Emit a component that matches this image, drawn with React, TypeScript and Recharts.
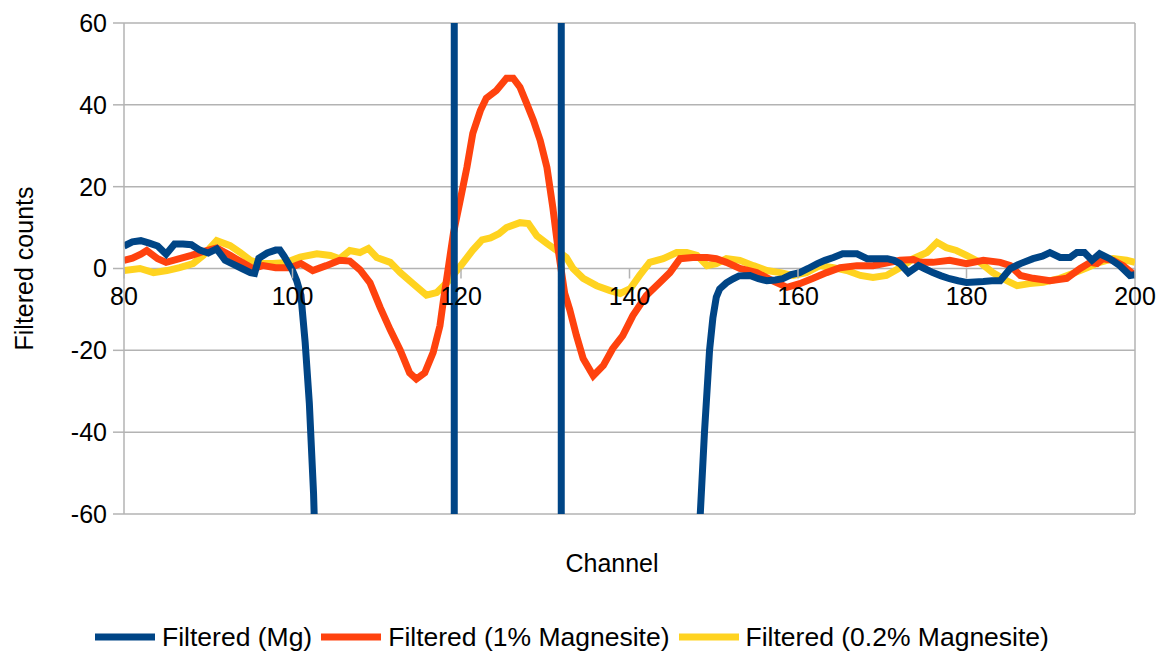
import React from 'react';
import { LineChart, Line, XAxis, YAxis, CartesianGrid, ReferenceLine } from 'recharts';

// ---- layout constants ----
const W = 1163;
const H = 659;
const PLOT_LEFT = 124;
const PLOT_RIGHT = 1135;
const PLOT_TOP = 23;
const PLOT_BOTTOM = 514;
const X_AXIS_H = 60;
const FONT = '"Liberation Sans", Arial, sans-serif';
const GRID = '#b3b3b3';

// ---- axes ----
const X_MIN = 80;
const X_MAX = 200;
const Y_MIN = -60;
const Y_MAX = 60;
const X_TICKS = [80, 100, 120, 140, 160, 180, 200];
const Y_TICKS = [-60, -40, -20, 0, 20, 40, 60];

// ---- series names / colours ----
const SERIES_NAMES = ['Filtered (Mg)', 'Filtered (1% Magnesite)', 'Filtered (0.2% Magnesite)'];
const SERIES_COLORS = ['#004586', '#ff420e', '#ffd320'];

// ---- Filtered (Mg) ----
const MG_CH = [
  80, 81, 82, 83, 84, 85, 86, 87, 88, 89,
  90, 91, 92, 93, 94, 95, 95.5, 96, 97, 98,
  98.5, 99, 100, 100.5, 101, 101.5, 102, 102.5, 103, 104,
  119.2, 119.2, 131.9, 131.9, 147, 148, 148.4, 148.9, 149.5, 149.9,
  150.3, 150.7, 151.5, 152.3, 153, 154.3, 155.3, 156.3, 157.3, 158.2,
  159.2, 160.2, 161.2, 162.3, 163.2, 164.2, 165.3, 166, 167, 168.2,
  169.5, 170.6, 171.4, 172.1, 173.1, 174.3, 175, 176, 177, 178,
  179, 180, 181, 182, 183, 184, 185.2, 186.4, 187.9, 189,
  189.9, 191.1, 192.3, 193.1, 194, 194.9, 195.8, 197, 198.2, 199.4,
  200,
];
const MG_V = [
  5.5, 6.5, 6.8, 6.2, 5.5, 3.5, 6, 6, 5.8, 4.5,
  3.8, 4.8, 2, 1, 0, -1, -1.2, 2.5, 3.8, 4.5,
  4.5, 3, -0.5, -3, -6.5, -18, -33, -55, -90, -160,
  -200, 200, 200, -200, -200, -100, -60, -40, -20, -12,
  -7, -5, -3.5, -2.5, -1.8, -1.7, -2.5, -3, -2.8, -2.5,
  -1.5, -1, 0, 1.2, 2, 2.7, 3.6, 3.6, 3.6, 2.4,
  2.4, 2.4, 2, 1.2, -1, 0.7, 0, -1, -1.8, -2.5,
  -3, -3.4, -3.3, -3.2, -3, -3, 0, 1.2, 2.4, 3,
  3.9, 2.7, 2.7, 3.9, 3.9, 2, 3.6, 2.4, 0.7, -1.7,
  -1.5,
];

// ---- Filtered (1% Magnesite) ----
const MAG1_CH = [
  80, 81, 82, 82.7, 84, 85, 86.6, 88, 89.8, 91,
  92.6, 94, 95.3, 96.5, 98, 99.7, 101, 102.4, 104, 105.6,
  106.8, 108, 109.2, 110.4, 111.6, 112.8, 113.9, 114.7, 115.7, 116.7,
  117.5, 117.9, 118.3, 119.1, 119.9, 120.7, 121.4, 122.3, 123, 124.2,
  125.4, 126.2, 127, 127.8, 128.6, 129.4, 130.2, 130.9, 131.5, 132.3,
  132.9, 133.7, 134.5, 135.7, 136.9, 138, 139.2, 140.4, 142, 143.6,
  144.8, 146, 147.5, 149.2, 150.3, 151.5, 153.1, 155.1, 157, 158.7,
  160.2, 161.8, 163.4, 165, 167, 168.9, 170.9, 172.1, 173.7, 174.5,
  176, 178, 180, 182, 184, 185.2, 186.4, 187.9, 189.9, 191.9,
  193.5, 194.7, 195.5, 196.2, 197.4, 198.6, 199.6, 200,
];
const MAG1_V = [
  2, 2.5, 3.5, 4.4, 2.4, 1.5, 2.4, 3.2, 4.4, 5,
  3.2, 1.5, 0, 0.7, 0.2, 0.2, 1.2, -0.5, 0.7, 2,
  1.8, -0.3, -3.5, -9.5, -15, -20, -25.5, -27, -25.5, -20.5,
  -14, -8, -2.5, 8.6, 16.6, 24.7, 33, 38.6, 41.6, 43.5,
  46.5, 46.5, 44.3, 40.3, 36.2, 31.3, 24.7, 14.9, 5.1, -6,
  -10, -16.4, -22, -26.2, -23.7, -19.6, -16.4, -11.5, -6.6, -3.4,
  -1, 2.4, 2.7, 2.7, 2.4, 1.5, 0, -1, -3, -4.6,
  -3.7, -2.4, -1, 0.2, 0.7, 0.7, 1.5, 2, 2.2, 1.5,
  1.5, 2, 1.2, 2, 1.5, 0.7, -1.7, -2.4, -3, -2.4,
  0, 1.5, 1.2, 2.4, 2, 0.7, -1, -1.5,
];

// ---- Filtered (0.2% Magnesite) ----
const MAG02_CH = [
  80, 81.9, 83.5, 85.1, 86.6, 88.2, 89.4, 91, 92.6, 93.8,
  95, 96.1, 97.7, 99.3, 100.9, 102.9, 104.5, 105.6, 106.8, 108,
  109, 110, 111.6, 112.8, 114.3, 115.9, 117.1, 118.3, 119.9, 121.4,
  122.5, 123.5, 124.5, 125.4, 127, 128, 129, 130.2, 131.4, 132.5,
  133.3, 134.5, 136.1, 137.7, 138.9, 140.1, 141.2, 142.4, 144, 145.6,
  146.8, 148, 149.2, 150.3, 151.5, 153.1, 154.7, 156.3, 157.9, 159.4,
  161, 162.6, 164.2, 165.8, 167.4, 168.9, 170.5, 172.1, 173.7, 175.3,
  176.5, 177.6, 178.8, 180, 181.6, 183.1, 184.8, 186, 187.5, 189.1,
  191.1, 192.6, 194.3, 195.8, 197.4, 199, 200,
];
const MAG02_V = [
  -0.5, 0, -1, -0.5, 0.2, 1.2, 3.2, 6.8, 5.6, 3.9,
  2, 1.2, 1.2, 1.5, 2.8, 3.6, 3.2, 2.4, 4.4, 3.9,
  4.9, 2.7, 1.5, -1, -3.7, -6.5, -5.9, -3.5, 0.5, 4.5,
  7, 7.5, 8.5, 10, 11.2, 11, 8, 6.1, 4.4, 2.7,
  0, -2.4, -4.2, -5.4, -6.1, -4.9, -1.7, 1.5, 2.4, 3.9,
  3.9, 3.2, 0.7, 1.2, 2.4, 2, 0.7, -0.5, -1, -1.7,
  -1, 0.7, 0.2, -0.5, -1.7, -2.2, -1.7, 0.2, 2.4, 3.9,
  6.4, 5.1, 4.4, 3.2, 1.5, -1, -3, -4.2, -3.7, -3.4,
  -2.4, -1.2, 0.2, 1.5, 2.4, 2, 1.5,
];

const toData = (ch: number[], v: number[]) => ch.map((c, i) => ({ ch: c, v: v[i] }));
const mgData = toData(MG_CH, MG_V);
const mag1Data = toData(MAG1_CH, MAG1_V);
const mag02Data = toData(MAG02_CH, MAG02_V);

const ZERO_Y = PLOT_TOP + ((Y_MAX - 0) / (Y_MAX - Y_MIN)) * (PLOT_BOTTOM - PLOT_TOP);

const XTick = (props: any) => {
  const { x, payload } = props;
  return (
    <g>
      <line x1={x} x2={x} y1={ZERO_Y} y2={ZERO_Y + 10} stroke={GRID} strokeWidth={1.5} />
      <text x={x} y={ZERO_Y + 36} textAnchor="middle" fontSize={25} fill="#000" fontFamily={FONT}>
        {payload.value}
      </text>
    </g>
  );
};

const XLabel = () => (
  <text x={612} y={572} textAnchor="middle" fontSize={25} fill="#000" fontFamily={FONT}>
    Channel
  </text>
);

const YLabel = () => {
  const cx = 33;
  const cy = (PLOT_TOP + PLOT_BOTTOM) / 2;
  return (
    <text
      x={cx}
      y={cy}
      textAnchor="middle"
      fontSize={25}
      fill="#000"
      fontFamily={FONT}
      transform={`rotate(-90 ${cx} ${cy})`}
    >
      Filtered counts
    </text>
  );
};

const LINE_W = 7;

export default function App() {
  return (
    <div style={{ position: 'absolute', left: 0, top: 0, width: W, height: H, background: '#fff' }}>
      <LineChart
        width={W}
        height={H}
        margin={{ top: PLOT_TOP, right: W - PLOT_RIGHT, bottom: H - PLOT_BOTTOM - X_AXIS_H, left: 0 }}
      >
        <CartesianGrid vertical={false} stroke={GRID} strokeWidth={1.5} />
        <XAxis
          dataKey="ch"
          type="number"
          domain={[X_MIN, X_MAX]}
          ticks={X_TICKS}
          interval={0}
          height={X_AXIS_H}
          axisLine={false}
          tickLine={false}
          tick={<XTick />}
          allowDataOverflow
          label={<XLabel />}
        />
        <YAxis
          type="number"
          domain={[Y_MIN, Y_MAX]}
          ticks={Y_TICKS}
          interval={0}
          width={PLOT_LEFT}
          allowDataOverflow
          axisLine={{ stroke: GRID, strokeWidth: 1.5 }}
          tickLine={{ stroke: GRID, strokeWidth: 1.5 }}
          tickSize={11}
          tickMargin={6}
          tick={{ fontSize: 25, fill: '#000', fontFamily: FONT }}
          label={<YLabel />}
        />
        <ReferenceLine x={X_MAX} stroke={GRID} strokeWidth={1.5} />
        <Line
          data={mag02Data}
          dataKey="v"
          type="linear"
          stroke={SERIES_COLORS[2]}
          strokeWidth={LINE_W}
          dot={false}
          activeDot={false}
          isAnimationActive={false}
          name={SERIES_NAMES[2]}
        />
        <Line
          data={mag1Data}
          dataKey="v"
          type="linear"
          stroke={SERIES_COLORS[1]}
          strokeWidth={LINE_W}
          dot={false}
          activeDot={false}
          isAnimationActive={false}
          name={SERIES_NAMES[1]}
        />
        <Line
          data={mgData}
          dataKey="v"
          type="linear"
          stroke={SERIES_COLORS[0]}
          strokeWidth={LINE_W}
          dot={false}
          activeDot={false}
          isAnimationActive={false}
          name={SERIES_NAMES[0]}
        />
      </LineChart>
      <div
        style={{
          position: 'absolute',
          left: 95,
          top: 622,
          display: 'flex',
          alignItems: 'center',
          fontFamily: FONT,
          fontSize: 26.5,
          lineHeight: '30px',
          whiteSpace: 'nowrap',
          color: '#000',
        }}
      >
        {SERIES_NAMES.map((name, i) => (
          <div key={name} style={{ display: 'flex', alignItems: 'center', marginRight: 9 }}>
            <svg width={60} height={10} style={{ display: 'block' }}>
              <line x1={0} x2={60} y1={5} y2={5} stroke={SERIES_COLORS[i]} strokeWidth={7} />
            </svg>
            <span style={{ marginLeft: 7 }}>{name}</span>
          </div>
        ))}
      </div>
    </div>
  );
}
